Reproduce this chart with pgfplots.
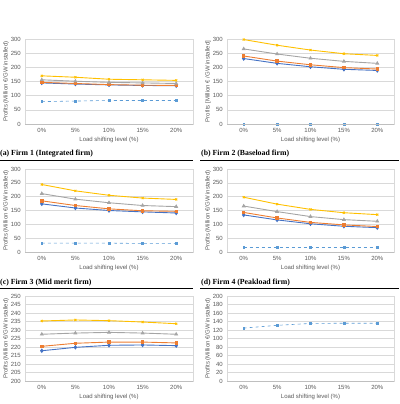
\documentclass[border=0pt]{standalone}
\usepackage{pgfplots}
\pgfplotsset{compat=1.18}
\usepackage{fontspec}
\setmainfont{Liberation Sans}
\newfontfamily\capfont{Liberation Serif}

\definecolor{sBlue}{HTML}{4472C4}
\definecolor{sOrange}{HTML}{ED7D31}
\definecolor{sGray}{HTML}{A5A5A5}
\definecolor{sYellow}{HTML}{FFC000}
\definecolor{sLight}{HTML}{5B9BD5}
\definecolor{gridgray}{HTML}{D9D9D9}
\definecolor{axisgray}{HTML}{BFBFBF}
\definecolor{labelgray}{HTML}{595959}

\pgfplotsset{
  panel/.style={
    scale only axis, anchor=south west, clip=false,
    xmin=-0.5, xmax=4.5,
    xtick={0,1,2,3,4}, xticklabels={0\%,5\%,10\%,15\%,20\%},
    axis line style={draw=gridgray, line width=0.5pt},
    major tick length=0pt,
    ymajorgrids, grid style={draw=gridgray, line width=0.45pt},
    tick label style={font=\fontsize{6}{7}\selectfont, text=labelgray},
    /pgf/number format/assume math mode=true,
    yticklabel style={anchor=east, inner sep=0pt, xshift=-4pt},
    xticklabel style={anchor=north, inner sep=0pt, yshift=-4.5pt},
    xlabel={Load shifting level (\%)},
    ylabel={Profits (Million €/GW installed)},
    every axis x label/.style={at={(rel axis cs:0.5,0)}, anchor=center,
      yshift=-15.5pt, font=\fontsize{6}{7}\selectfont, text=labelgray},
    every axis y label/.style={at={(rel axis cs:0,0.5)}, rotate=90, anchor=center,
      yshift=19pt, font=\fontsize{6}{7}\selectfont, text=labelgray},
    after end axis/.code={\draw[axisgray, line width=0.6pt] (rel axis cs:0,0) -- (rel axis cs:1,0);},
  },
  sb/.style={sBlue, line width=0.9pt, mark=diamond*, mark size=1.6pt},
  so/.style={sOrange, line width=0.9pt, mark=square*, mark size=1.2pt},
  sg/.style={sGray, line width=0.9pt, mark=triangle*, mark size=1.5pt},
  sy/.style={sYellow, line width=0.9pt, mark=x, mark size=1.4pt},
  sl/.style={sLight, line width=0.6pt, dashed, mark=square*, mark size=0.9pt, mark options={solid}},
}

\begin{document}
\begin{tikzpicture}
\useasboundingbox (0pt,0pt) rectangle (399pt,-404pt);

% (a) Firm 1
\begin{axis}[panel, at={(25pt,-124pt)}, width=168pt, height=85pt,
  ymin=0, ymax=300, ytick={0,50,...,300}]
  \addplot[sl] coordinates {(0,79) (1,81) (2,83) (3,83) (4,83)};
  \addplot[sb] coordinates {(0,145) (1,141) (2,138) (3,136) (4,135)};
  \addplot[so] coordinates {(0,147) (1,143) (2,139) (3,137) (4,136)};
  \addplot[sg] coordinates {(0,156) (1,151) (2,147) (3,145) (4,143)};
  \addplot[sy] coordinates {(0,170) (1,165) (2,158) (3,156) (4,154)};
\end{axis}

% (b) Firm 2
\begin{axis}[panel, at={(227pt,-124pt)}, width=167pt, height=85pt,
  ymin=0, ymax=300, ytick={0,50,...,300},
  ylabel={Profits [Million € /GW installed]}]
  \addplot[sl] coordinates {(0,0) (1,0) (2,0) (3,0) (4,0)};
  \addplot[sb] coordinates {(0,231) (1,214) (2,202) (3,193) (4,189)};
  \addplot[so] coordinates {(0,240) (1,222) (2,209) (3,199) (4,194)};
  \addplot[sg] coordinates {(0,265) (1,247) (2,232) (3,221) (4,214)};
  \addplot[sy] coordinates {(0,298) (1,278) (2,261) (3,248) (4,242)};
\end{axis}

% (c) Firm 3
\begin{axis}[panel, at={(25pt,-252pt)}, width=168pt, height=83pt,
  ymin=0, ymax=300, ytick={0,50,...,300}]
  \addplot[sl] coordinates {(0,32) (1,32) (2,32) (3,31) (4,31)};
  \addplot[sb] coordinates {(0,174) (1,159) (2,150) (3,145) (4,141)};
  \addplot[so] coordinates {(0,185) (1,168) (2,156) (3,149) (4,147)};
  \addplot[sg] coordinates {(0,211) (1,191) (2,178) (3,168) (4,164)};
  \addplot[sy] coordinates {(0,244) (1,221) (2,205) (3,195) (4,190)};
\end{axis}

% (d) Firm 4
\begin{axis}[panel, at={(227pt,-252pt)}, width=167pt, height=83pt,
  ymin=0, ymax=300, ytick={0,50,...,300}]
  \addplot[sl] coordinates {(0,18) (1,18) (2,18) (3,18) (4,18)};
  \addplot[sb] coordinates {(0,134) (1,116) (2,102) (3,93) (4,88)};
  \addplot[so] coordinates {(0,143) (1,123) (2,107) (3,98) (4,92)};
  \addplot[sg] coordinates {(0,166) (1,146) (2,128) (3,117) (4,111)};
  \addplot[sy] coordinates {(0,198) (1,173) (2,154) (3,142) (4,135)};
\end{axis}

% (e) further firm, four series
\begin{axis}[panel, at={(25pt,-381pt)}, width=168pt, height=85pt,
  ymin=200, ymax=250, ytick={200,205,...,250}]
  \addplot[sb] coordinates {(0,217.8) (1,219.8) (2,221.0) (3,221.2) (4,220.8)};
  \addplot[so] coordinates {(0,220.4) (1,222.2) (2,222.9) (3,222.9) (4,222.4)};
  \addplot[sg] coordinates {(0,227.5) (1,228.2) (2,228.6) (3,228.2) (4,227.5)};
  \addplot[sy] coordinates {(0,235.3) (1,235.9) (2,235.5) (3,234.7) (4,233.7)};
\end{axis}

% (f) further firm, single series
\begin{axis}[panel, at={(227pt,-381pt)}, width=167pt, height=85pt,
  ymin=0, ymax=200, ytick={0,20,...,200}]
  \addplot[sl] coordinates {(0,124.5) (1,131) (2,135.4) (3,136) (4,136)};
\end{axis}

% sub-captions and rules
\begin{scope}[every node/.style={anchor=west, inner sep=0pt,
    font=\capfont\bfseries\fontsize{7.8}{9}\selectfont}]
  \node at (0pt,-154pt) {(a) Firm 1 (Integrated firm)};
  \node at (201pt,-154pt) {(b) Firm 2 (Baseload firm)};
  \node at (0pt,-283pt) {(c) Firm 3 (Mid merit firm)};
  \node at (201pt,-283pt) {(d) Firm 4 (Peakload firm)};
\end{scope}
\draw[line width=0.9pt] (0pt,-160pt) -- (193pt,-160pt);
\draw[line width=0.9pt] (200pt,-160pt) -- (399pt,-160pt);
\draw[line width=0.9pt] (0pt,-288pt) -- (193pt,-288pt);
\draw[line width=0.9pt] (200pt,-288pt) -- (399pt,-288pt);
\end{tikzpicture}
\end{document}
